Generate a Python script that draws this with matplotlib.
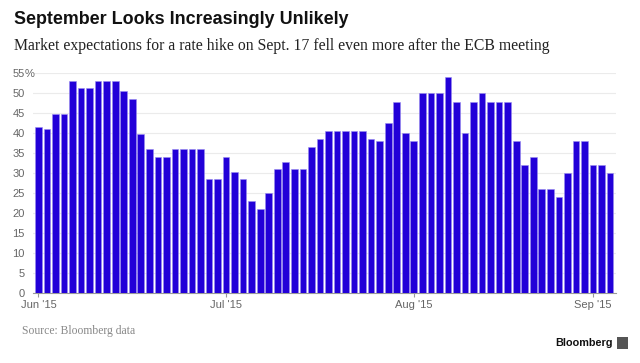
import pandas as pd
import numpy as np
import matplotlib
matplotlib.use('Agg')
import matplotlib.pyplot as plt
from matplotlib.patches import Rectangle

# Implied probability (%) of a Sept. 17 hike, one value per trading day
hike_prob = [41.6, 41.1, 44.8, 44.8, 53.2, 51.4, 51.4, 53.2, 53.2, 53.2,
             50.5, 48.6, 39.8, 36.1, 34.2, 34.2, 36.1, 36.1, 36.1, 36.1,
             28.7, 28.7,
             34.2, 30.4, 28.6, 23.2, 21.2, 25.2, 31.0, 32.8, 31.0, 31.0,
             36.7, 38.5, 40.5, 40.5, 40.5, 40.5, 40.5, 38.5, 38.0, 42.5,
             47.9, 40.0,
             38.0, 50.0, 50.0, 50.0, 54.0, 47.9, 40.0, 47.9, 50.0, 47.9,
             47.9, 47.9, 38.0, 32.0, 34.0, 26.2, 26.2, 24.2, 30.0, 38.0,
             38.0,
             32.0, 32.0, 30.0]
start_date = '2015-06-01'
end_date = '2015-09-03'
holidays = ['2015-07-03']
month_labels = ["Jun '15", "Jul '15", "Aug '15", "Sep '15"]
y_ticks = [0, 5, 10, 15, 20, 25, 30, 35, 40, 45, 50, 55]

title = 'September Looks Increasingly Unlikely'
subtitle = 'Market expectations for a rate hike on Sept. 17 fell even more after the ECB meeting'
source = 'Source: Bloomberg data'

# trading days -> bar positions
days = pd.bdate_range(start_date, end_date)
days = days[~days.isin(pd.to_datetime(holidays))]
x = np.arange(len(days))
month_first = [x[np.where(days.month == m)[0][0]] for m in sorted(set(days.month))]

bar_color = '#2200d8'
grid_color = '#ebebeb'
tick_color = '#666666'

fig = plt.figure(figsize=(6.4, 3.63), dpi=100)
ax = fig.add_axes([0.052, 0.192, 0.9105, 0.606])

ax.bar(x, hike_prob, width=0.78, color=bar_color, edgecolor='#9a8cf0',
       linewidth=0.4, zorder=3)

ax.set_xlim(-0.6, len(x) - 0.3)
ax.set_ylim(0, 55)
ax.set_yticks(y_ticks)
ax.set_yticklabels([str(v) for v in y_ticks])
ax.set_xticks(month_first)
ax.set_xticklabels(month_labels)

ax.grid(axis='y', color=grid_color, linewidth=0.8, zorder=0)
for side in ['top', 'right', 'left']:
    ax.spines[side].set_visible(False)
ax.spines['bottom'].set_color('#999999')
ax.spines['bottom'].set_linewidth(0.8)

ax.tick_params(axis='y', length=0, pad=6, labelsize=8, labelcolor=tick_color)
ax.tick_params(axis='x', length=3, width=0.8, color='#999999', pad=2,
               labelsize=8, labelcolor=tick_color)
for lbl in ax.get_xticklabels() + ax.get_yticklabels():
    lbl.set_family('Liberation Sans')

# percent sign after the top label
ax.text(-0.014, 55, '%', transform=ax.get_yaxis_transform(), ha='left',
        va='center_baseline', fontsize=8, color=tick_color, family='Liberation Sans')

fig.text(0.022, 0.945, title, ha='left', va='center', fontsize=12.9,
         fontweight='bold', family='Liberation Sans', color='#111111')
fig.text(0.022, 0.873, subtitle, ha='left', va='center', fontsize=11.3,
         family='Liberation Serif', color='#222222')
fig.text(0.034, 0.088, source, ha='left', va='center', fontsize=8.4,
         family='Liberation Serif', color='#888888')

# Bloomberg logo
fig.text(0.958, 0.055, 'Bloomberg', ha='right', va='center', fontsize=7.8,
         family='Liberation Sans', fontweight='bold', color='#111111')
fig.patches.append(Rectangle((0.964, 0.038), 0.017, 0.033, transform=fig.transFigure,
                             facecolor='#555555', edgecolor='none'))

fig.savefig('out.png', dpi=100, facecolor='white')
